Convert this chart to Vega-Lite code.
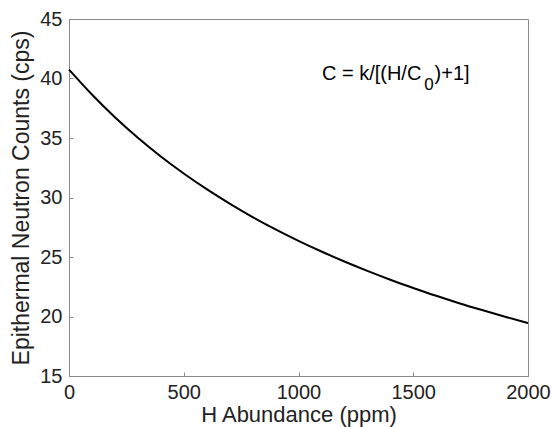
{
  "$schema": "https://vega.github.io/schema/vega-lite/v6.json",
  "width": 459,
  "height": 357,
  "autosize": "none",
  "padding": {"left": 69, "top": 19, "right": 24, "bottom": 51},
  "background": "white",
  "config": {
    "font": "Liberation Sans",
    "view": {"stroke": "#8a8a8a", "strokeWidth": 1},
    "axis": {
      "grid": false,
      "domainColor": "#8a8a8a",
      "tickColor": "#8a8a8a",
      "tickSize": -4,
      "labelFont": "Liberation Sans",
      "titleFont": "Liberation Sans",
      "labelFontSize": 20,
      "titleFontSize": 22,
      "labelColor": "#222",
      "titleColor": "#222",
      "titleFontWeight": "normal",
      "format": "d"
    }
  },
  "datasets": {
    "curve": [
      {"H": 0, "C": 40.75},
      {"H": 100, "C": 38.65},
      {"H": 200, "C": 36.74},
      {"H": 300, "C": 35.02},
      {"H": 400, "C": 33.45},
      {"H": 500, "C": 32.02},
      {"H": 600, "C": 30.7},
      {"H": 700, "C": 29.49},
      {"H": 800, "C": 28.36},
      {"H": 900, "C": 27.32},
      {"H": 1000, "C": 26.36},
      {"H": 1100, "C": 25.46},
      {"H": 1200, "C": 24.62},
      {"H": 1300, "C": 23.83},
      {"H": 1400, "C": 23.09},
      {"H": 1500, "C": 22.4},
      {"H": 1600, "C": 21.74},
      {"H": 1700, "C": 21.12},
      {"H": 1800, "C": 20.54},
      {"H": 1900, "C": 19.98},
      {"H": 2000, "C": 19.45}
    ],
    "note": [
      {"H": 1102, "C": 39.88, "label": "C = k/[(H/C", "size": "main"},
      {"H": 1548, "C": 39.04, "label": "0", "size": "sub"},
      {"H": 1593, "C": 39.88, "label": ")+1]", "size": "main"}
    ]
  },
  "layer": [
    {
      "data": {"name": "curve"},
      "mark": {"type": "line", "color": "black", "strokeWidth": 2, "interpolate": "monotone"},
      "encoding": {
        "x": {
          "field": "H", "type": "quantitative",
          "scale": {"domain": [0, 2000], "nice": false},
          "axis": {"values": [0, 500, 1000, 1500, 2000], "title": "H Abundance (ppm)", "labelPadding": 10, "titlePadding": 2, "labelFlush": false}
        },
        "y": {
          "field": "C", "type": "quantitative",
          "scale": {"domain": [15, 45], "nice": false, "zero": false},
          "axis": {"values": [15, 20, 25, 30, 35, 40, 45], "title": "Epithermal Neutron Counts (cps)", "titleFontSize": 23, "labelPadding": 11, "titlePadding": 6, "labelFlush": false}
        }
      }
    },
    {
      "data": {"name": "note"},
      "mark": {"type": "text", "align": "left", "baseline": "alphabetic", "font": "Liberation Sans", "color": "black"},
      "encoding": {
        "x": {"field": "H", "type": "quantitative"},
        "y": {"field": "C", "type": "quantitative"},
        "text": {"field": "label"},
        "size": {"field": "size", "type": "nominal", "scale": {"domain": ["main", "sub"], "range": [20, 17]}, "legend": null}
      }
    }
  ]
}
